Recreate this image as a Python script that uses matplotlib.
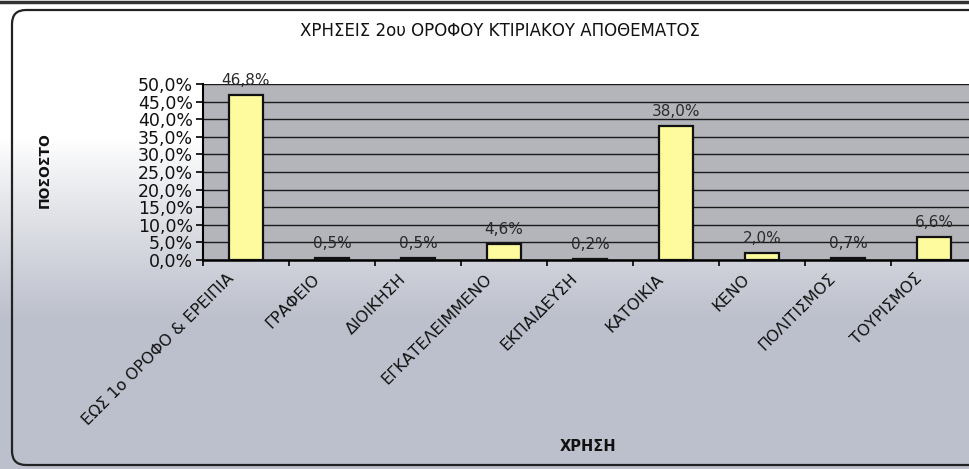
import numpy as np
import matplotlib
matplotlib.use('Agg')
import matplotlib.pyplot as plt
import matplotlib.transforms as mtransforms
from matplotlib.patches import FancyBboxPatch
from matplotlib.ticker import FixedLocator

plt.rcParams['font.family'] = ['DejaVu Sans']

# χρήσεις 2ου ορόφου (%)
categories = ['ΕΩΣ 1ο ΟΡΟΦΟ & ΕΡΕΙΠΙΑ', 'ΓΡΑΦΕΙΟ', 'ΔΙΟΙΚΗΣΗ', 'ΕΓΚΑΤΕΛΕΙΜΜΕΝΟ',
              'ΕΚΠΑΙΔΕΥΣΗ', 'ΚΑΤΟΙΚΙΑ', 'ΚΕΝΟ', 'ΠΟΛΙΤΙΣΜΟΣ', 'ΤΟΥΡΙΣΜΟΣ']
percent = [46.8, 0.5, 0.5, 4.6, 0.2, 38.0, 2.0, 0.7, 6.6]
y_ticks = [0, 5, 10, 15, 20, 25, 30, 35, 40, 45, 50]

def pct(v):
    return f'{v:.1f}%'.replace('.', ',')

fig = plt.figure(figsize=(9.69, 4.69), dpi=100)

# φόντο: λευκό πάνω, γκριζογάλαζο προς τα κάτω
bg = fig.add_axes([0, 0, 1, 1], zorder=-10)
rows = np.linspace(0, 1, 469)
shade = np.clip((rows - 0.30) / 0.38, 0, 1) ** 0.9
top_c = np.array([1.0, 1.0, 1.0])
bot_c = np.array([0.74, 0.755, 0.80])
img = top_c[None, :] * (1 - shade[:, None]) + bot_c[None, :] * shade[:, None]
img = np.repeat(img[:, None, :], 10, axis=1)
bg.imshow(img, aspect='auto', extent=[0, 1, 0, 1], origin='upper')
bg.set_xlim(0, 1)
bg.set_ylim(0, 1)
bg.axis('off')

# πλαίσιο γραφήματος
frame = FancyBboxPatch((0.12, 0.04), 9.8, 4.55, boxstyle='round,pad=0,rounding_size=0.14',
                       transform=fig.dpi_scale_trans, facecolor='none',
                       edgecolor='#222222', linewidth=1.6, zorder=5)
fig.patches.append(frame)
fig.add_artist(plt.Line2D([0, 1], [0.995, 0.995], color='#333333', lw=2.5,
                          transform=fig.transFigure))

ax = fig.add_axes([203 / 969, 1 - 260 / 469, 774 / 969, 176 / 469])
ax.set_facecolor('#b3b5bb')

x = np.arange(len(categories))
ax.bar(x, percent, width=0.4, color='#fdfb9e', edgecolor='#111111', linewidth=1.6, zorder=3)
for xi, v in zip(x, percent):
    ax.annotate(pct(v), (xi, v), xytext=(0, 5), textcoords='offset points',
                ha='center', va='bottom', fontsize=11, color='#2a2a2a', zorder=4,
                annotation_clip=False)

ax.set_xlim(-0.5, len(categories) - 0.5)
ax.set_ylim(0, 50)
ax.set_yticks(y_ticks)
ax.set_yticklabels([pct(v) for v in y_ticks], fontsize=12.5, color='#111111')
ax.yaxis.grid(True, color='#1a1a1a', linewidth=1.0, zorder=1)
ax.set_axisbelow(True)
ax.tick_params(axis='y', length=5, width=1.2, direction='out', pad=2)

ax.set_xticks(x)
ax.set_xticklabels(categories, rotation=45, ha='right', rotation_mode='anchor',
                   fontsize=11.5, color='#111111')
ax.tick_params(axis='x', length=0, pad=8)
# λίγο αριστερά οι πλάγιες ετικέτες
shift = mtransforms.ScaledTranslation(-0.2, 0, fig.dpi_scale_trans)
for lbl in ax.get_xticklabels():
    lbl.set_transform(lbl.get_transform() + shift)
ax.xaxis.set_minor_locator(FixedLocator(np.arange(-0.5, len(categories), 1)))
ax.tick_params(axis='x', which='minor', length=4, width=1.2, direction='out')

for side in ['top', 'right']:
    ax.spines[side].set_visible(False)
ax.spines['left'].set_linewidth(1.5)
ax.spines['bottom'].set_linewidth(1.8)

fig.text(500 / 969, 1 - 31 / 469, 'ΧΡΗΣΕΙΣ 2ου ΟΡΟΦΟΥ ΚΤΙΡΙΑΚΟΥ ΑΠΟΘΕΜΑΤΟΣ',
         ha='center', va='center', fontsize=12, color='#111111')
fig.text(45 / 969, 1 - 170 / 469, 'ΠΟΣΟΣΤΟ', rotation=90, ha='center', va='center',
         fontsize=10, fontweight='bold', color='#111111')
fig.text(588 / 969, 1 - 446 / 469, 'ΧΡΗΣΗ', ha='center', va='center',
         fontsize=10.5, fontweight='bold', color='#111111')

fig.savefig('out.png', dpi=100)
